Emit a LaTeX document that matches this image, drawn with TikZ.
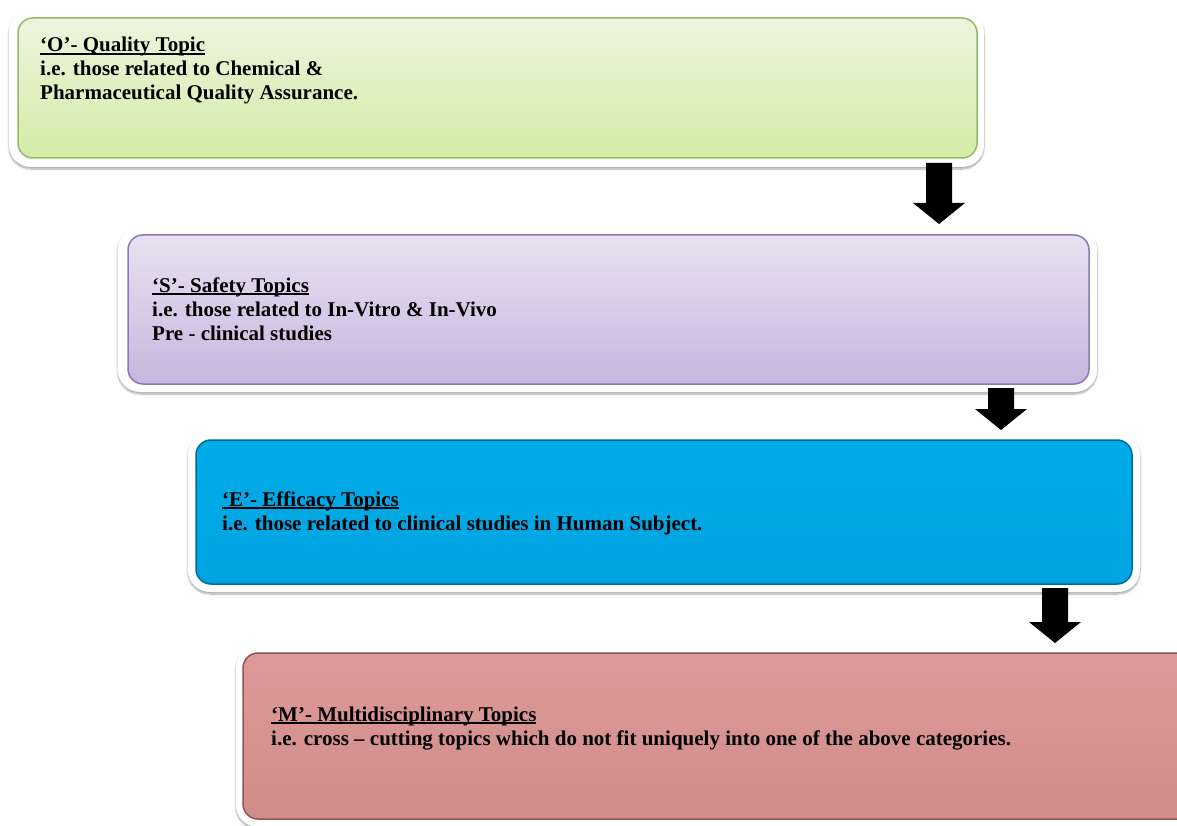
\documentclass[tikz,border=0pt]{standalone}
\usepackage{fontspec}
\setmainfont{Liberation Serif}
\usepackage{tikz}
\usetikzlibrary{calc, shadows.blur}

\newcommand{\topichead}[1]{\setbox0\hbox{#1}\rlap{\vrule height -1.2pt depth 2.6pt width \wd0}\box0}

\definecolor{qtop}{RGB}{236,245,222}
\definecolor{qbot}{RGB}{210,236,166}
\definecolor{qedge}{RGB}{150,185,100}
\definecolor{stop}{RGB}{232,226,242}
\definecolor{sbot}{RGB}{198,182,222}
\definecolor{sedge}{RGB}{140,120,180}
\definecolor{etop}{RGB}{0,172,232}
\definecolor{ebot}{RGB}{0,164,225}
\definecolor{eedge}{RGB}{0,105,155}
\definecolor{mtop}{RGB}{222,154,154}
\definecolor{mbot}{RGB}{206,140,138}
\definecolor{medge}{RGB}{145,85,85}

\tikzset{
  frame/.style={fill=white, rounded corners=22, inner sep=0, outer sep=0,
    blur shadow={shadow xshift=0pt, shadow yshift=-2pt, shadow blur steps=8, shadow opacity=35}},
  card/.style={rounded corners=15, line width=1.5},
  topic/.style={anchor=base west, align=left, inner sep=0,
    font=\bfseries\fontsize{21}{24}\selectfont},
  blockarrow/.style={fill=black}
}

\begin{document}
\begin{tikzpicture}[x=1pt, y=-1pt]
\useasboundingbox (0,0) rectangle (1177,826);

\node[frame, minimum width=975, minimum height=157] (q) at (496.5,88.5) {};
\node[frame, minimum width=979, minimum height=165] (s) at (607.5,309.5) {};
\node[frame, minimum width=952, minimum height=159] (e) at (664,512.5) {};
\node[frame, minimum width=964, minimum height=181] (m) at (718,736.5) {};

\shade[card, draw=qedge, top color=qtop, bottom color=qbot]
  ($(q.north west)+(9,8)$) rectangle ($(q.south east)+(-7,-9)$);
\shade[card, draw=sedge, top color=stop, bottom color=sbot]
  ($(s.north west)+(10,8)$) rectangle ($(s.south east)+(-8,-8)$);
\shade[card, draw=eedge, top color=etop, bottom color=ebot]
  ($(e.north west)+(8,7)$) rectangle ($(e.south east)+(-8,-8)$);
\shade[card, draw=medge, top color=mtop, bottom color=mbot]
  ($(m.north west)+(7,7)$) rectangle ($(m.south east)+(-8,-8)$);

\node[topic] (qt) at (40,100) {\topichead{‘O’- Quality Topic}\\
  i.e. those related to Chemical \&\\ Pharmaceutical Quality Assurance.};
\node[topic] (st) at (152,340) {\topichead{‘S’- Safety Topics}\\
  i.e. those related to In-Vitro \& In-Vivo\\ Pre - clinical studies};
\node[topic] (et) at (222,530) {\topichead{‘E’- Efficacy Topics}\\
  i.e. those related to clinical studies in Human Subject.};
\node[topic] (mt) at (271,745) {\topichead{‘M’- Multidisciplinary Topics}\\
  i.e. cross – cutting topics which do not fit uniquely into one of the above categories.};

\foreach \a/\b/\x in {q/s/939, s/e/1001, e/m/1055} {
  \coordinate (ax) at (\x,0);
  \fill[blockarrow] ($(\a.south -| ax)+(-13,-4)$) -- ($(\b.north -| ax)+(-13,-24)$)
    -- ($(\b.north -| ax)+(-26,-24)$) -- ($(\b.north -| ax)+(0,-3)$)
    -- ($(\b.north -| ax)+(26,-24)$) -- ($(\b.north -| ax)+(13,-24)$)
    -- ($(\a.south -| ax)+(13,-4)$) -- cycle;
}
\end{tikzpicture}
\end{document}
